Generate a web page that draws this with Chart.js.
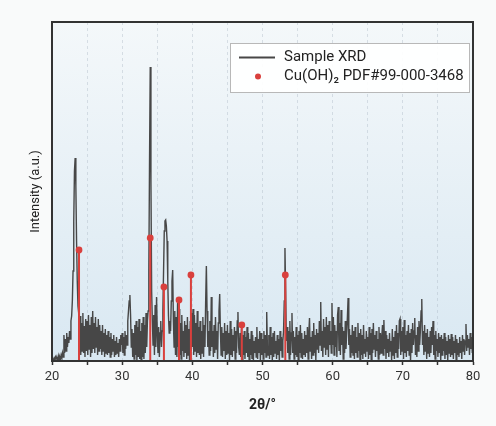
<!DOCTYPE html>
<html>
<head>
<meta charset="utf-8">
<title>XRD</title>
<script src="https://cdn.jsdelivr.net/npm/chart.js@4.4.1/dist/chart.umd.min.js"></script>
<style>
	body { margin: 0; background: #f9fafa; }
	#wrap { width: 496px; height: 426px; }
</style>
</head>
<body>
<div id="wrap"><canvas id="xrd" width="496" height="426"></canvas></div>
<script type="text/javascript">
	// measured pattern, 20..80 deg in 0.1 deg steps (one row per degree)
	var scanStart = 20;
	var scanStep = 0.1;
	var scanIntensity = [
		0,2,1,3,1,4,2,3,1,5,
		1,4,2,6,3,8,4,26,8,22,
		10,28,14,24,18,30,22,40,45,60,
		90,140,190,203,175,120,80,55,48,12,
		45,6,38,10,48,8,35,4,42,10,
		40,6,46,12,36,4,44,8,50,12,
		38,8,44,14,34,6,42,10,36,12,
		30,6,36,10,28,4,32,8,26,6,
		30,8,24,4,28,6,22,10,26,4,
		20,6,24,8,18,4,22,10,26,16,
		28,8,24,6,30,12,26,16,40,50,
		60,66,45,14,32,4,28,2,36,6,
		40,0,34,4,42,2,30,0,38,4,
		44,2,36,8,48,14,40,50,90,200,
		294,180,70,40,16,46,6,56,14,64,
		30,8,34,4,28,40,14,30,50,90,
		130,140,141,135,120,80,45,28,40,30,
		60,80,91,40,14,50,6,44,4,58,
		14,52,6,38,2,46,10,30,4,40,
		8,36,2,44,6,32,0,40,10,48,
		14,52,6,46,10,38,4,50,8,34,
		6,40,2,30,8,44,4,36,14,60,
		95,50,14,30,6,40,10,64,14,30,
		4,36,8,44,12,30,2,38,50,67,
		30,6,34,4,28,10,38,2,30,6,
		36,8,28,0,40,6,32,4,26,10,
		34,2,30,8,40,49,14,6,28,4,
		32,0,26,6,30,2,24,8,34,4,
		28,0,22,6,30,2,26,0,20,8,
		24,4,34,2,22,8,30,0,28,6,
		22,2,30,8,26,4,49,14,6,26,
		2,34,6,24,0,28,4,30,8,20,
		2,26,6,22,0,30,10,24,4,20,
		30,60,113,70,20,34,8,30,2,40,
		6,28,48,8,30,2,24,6,34,4,
		26,0,30,8,36,4,28,2,22,6,
		30,4,26,8,34,2,28,43,10,24,
		2,30,6,38,8,26,0,32,12,28,
		8,40,16,59,10,30,4,42,14,34,
		6,44,12,36,4,40,16,30,8,58,
		16,44,6,36,14,30,4,46,54,10,
		38,6,51,16,34,2,30,8,40,12,
		28,44,63,16,32,4,26,8,36,6,
		30,2,34,8,24,4,38,10,28,0,
		32,6,26,2,36,8,22,4,30,10,
		24,2,34,6,28,0,32,8,38,12,
		26,4,30,10,22,2,34,6,28,8,
		24,36,6,41,12,30,2,26,8,22,
		4,28,10,20,0,32,6,24,2,30,
		8,36,4,28,12,40,42,6,30,10,
		34,2,41,8,26,4,30,10,36,6,
		28,0,32,8,38,16,30,43,6,26,
		4,34,10,40,16,30,50,62,16,30,
		6,36,10,28,2,32,8,24,4,30,
		8,34,16,40,6,26,2,30,10,22,
		4,28,8,24,0,26,6,22,10,28,
		2,24,6,20,0,26,8,22,4,27,
		6,24,2,20,8,26,0,22,6,18,
		4,24,8,20,2,26,10,22,6,20,
		37,10,26,14,22,6,28,12,24,8,
		14
	];

	// reference card lines, Cu(OH)2 PDF#99-000-3468
	var refAngles = [23.85, 34.0, 35.95, 38.1, 39.8, 47.05, 53.25];
	var refIntensity = [111, 123, 74, 61, 86, 36, 86];

	var xTickLabels = [20, 30, 40, 50, 60, 70, 80];

	var traceColor = '#474747';
	var refColor = '#d9403d';

	var samplePoints = scanIntensity.map(function(v, i) {
		return { x: scanStart + i * scanStep, y: v };
	});

	var refPoints = [];
	refAngles.forEach(function(a, i) {
		refPoints.push({ x: a, y: 0 }, { x: a, y: refIntensity[i] }, { x: a, y: null });
	});

	var plotDecor = {
		id: 'plotDecor',
		beforeDraw: function(chart) {
			var ctx = chart.ctx, a = chart.chartArea;
			ctx.save();
			ctx.fillStyle = '#f9fafa';
			ctx.fillRect(0, 0, chart.width, chart.height);
			var g = ctx.createLinearGradient(0, a.top, 0, a.bottom);
			g.addColorStop(0, '#f4f8fa');
			g.addColorStop(1, '#d9e8f2');
			ctx.fillStyle = g;
			ctx.fillRect(a.left, a.top, a.right - a.left, a.bottom - a.top);
			ctx.restore();
		},
		afterDraw: function(chart) {
			var ctx = chart.ctx, a = chart.chartArea;
			ctx.save();
			// frame
			ctx.strokeStyle = '#333';
			ctx.lineWidth = 2;
			ctx.strokeRect(a.left, a.top, a.right - a.left, a.bottom - a.top);

			// legend box
			var bx = 230.5, by = 43.5, bw = 239, bh = 49;
			ctx.fillStyle = 'rgba(255,255,255,0.92)';
			ctx.fillRect(bx, by, bw, bh);
			ctx.strokeStyle = '#b8b8b8';
			ctx.lineWidth = 1;
			ctx.strokeRect(bx, by, bw, bh);

			var ds = chart.data.datasets;
			ctx.strokeStyle = traceColor;
			ctx.lineWidth = 2;
			ctx.beginPath();
			ctx.moveTo(239, 57.5);
			ctx.lineTo(275, 57.5);
			ctx.stroke();

			ctx.fillStyle = refColor;
			ctx.beginPath();
			ctx.arc(258, 76.5, 3, 0, Math.PI * 2);
			ctx.fill();

			ctx.fillStyle = '#222';
			ctx.font = '15px Roboto';
			ctx.textBaseline = 'middle';
			ctx.fillText(ds[0].label, 284, 57.5);
			ctx.fillText(ds[1].label, 284, 76);
			ctx.restore();
		}
	};

	var chart = new Chart(document.getElementById('xrd'), {
		type: 'line',
		data: {
			datasets: [{
				label: 'Sample XRD',
				data: samplePoints,
				borderColor: traceColor,
				borderWidth: 1.4,
				pointRadius: 0,
				tension: 0,
				order: 2
			}, {
				label: 'Cu(OH)\u2082 PDF#99-000-3468',
				data: refPoints,
				borderColor: refColor,
				backgroundColor: refColor,
				borderWidth: 2,
				spanGaps: false,
				pointRadius: function(c) { return c.raw && c.raw.y > 0 ? 3.4 : 0; },
				pointBorderWidth: 0,
				order: 1
			}]
		},
		options: {
			responsive: false,
			animation: false,
			layout: { padding: { top: 22, right: 23, left: 0, bottom: 0 } },
			plugins: { legend: { display: false }, tooltip: { enabled: false } },
			scales: {
				x: {
					type: 'linear',
					min: 20,
					max: 80,
					afterFit: function(s) { s.height = 65; },
					ticks: {
						stepSize: 5,
						autoSkip: false,
						maxRotation: 0,
						padding: 4,
						color: '#333',
						font: { family: 'Roboto', size: 13 },
						callback: function(v) { return xTickLabels.indexOf(v) >= 0 ? String(v) : ''; }
					},
					grid: { color: 'rgba(170,182,194,0.4)', lineWidth: 1, tickLength: 4, tickColor: '#333', tickWidth: 1.5 },
					border: { color: '#333', width: 2, dash: [3, 3] },
					title: {
						display: true,
						text: '2θ/°',
						color: '#222',
						font: { family: 'Roboto', size: 14, weight: 'bold' },
						padding: { top: 0, bottom: 12 }
					}
				},
				y: {
					min: 0,
					max: 339,
					afterFit: function(s) { s.width = 52; },
					ticks: { display: false },
					grid: { display: false },
					border: { color: '#333', width: 2 },
					title: {
						display: true,
						text: 'Intensity (a.u.)',
						color: '#222',
						font: { family: 'Roboto', size: 13 },
						padding: { top: 28, bottom: 0 }
					}
				}
			}
		},
		plugins: [plotDecor]
	});
</script>
</body>
</html>
